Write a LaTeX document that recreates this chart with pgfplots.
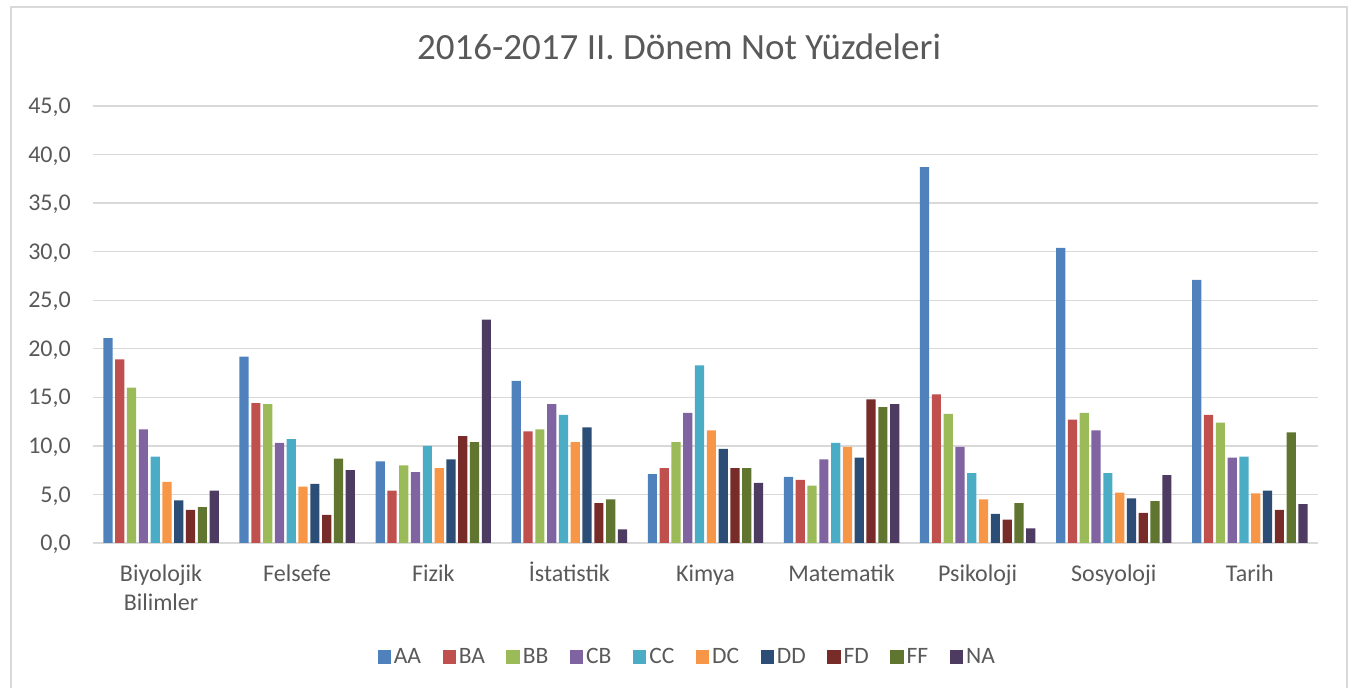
\documentclass[border=0pt]{standalone}
\usepackage{fontspec}
\setmainfont{Carlito}
\usepackage{pgfplots}
\pgfplotsset{compat=1.18}
\usepackage{pgfplotstable}
\definecolor{cAA}{HTML}{4F81BD}
\definecolor{cBA}{HTML}{C0504D}
\definecolor{cBB}{HTML}{9BBB59}
\definecolor{cCB}{HTML}{8064A2}
\definecolor{cCC}{HTML}{4BACC6}
\definecolor{cDC}{HTML}{F79646}
\definecolor{cDD}{HTML}{2C4D75}
\definecolor{cFD}{HTML}{772C2A}
\definecolor{cFF}{HTML}{5F7530}
\definecolor{cNA}{HTML}{4D3B62}
\definecolor{txt}{HTML}{595959}
\definecolor{gridc}{HTML}{D9D9D9}

\pgfplotstableread{
cat AA BA BB CB CC DC DD FD FF NA
0 21.1 18.9 16.0 11.7 8.9 6.3 4.4 3.4 3.7 5.4
1 19.2 14.4 14.3 10.3 10.7 5.8 6.1 2.9 8.7 7.5
2 8.4 5.4 8.0 7.3 10.0 7.7 8.6 11.0 10.4 23.0
3 16.7 11.5 11.7 14.3 13.2 10.4 11.9 4.1 4.5 1.4
4 7.1 7.7 10.4 13.4 18.3 11.6 9.7 7.7 7.7 6.2
5 6.8 6.5 5.9 8.6 10.3 9.9 8.8 14.8 14.0 14.3
6 38.7 15.3 13.3 9.9 7.2 4.5 3.0 2.4 4.1 1.5
7 30.4 12.7 13.4 11.6 7.2 5.2 4.6 3.1 4.3 7.0
8 27.1 13.2 12.4 8.8 8.9 5.1 5.4 3.4 11.4 4.0
}\datatable

\begin{document}
\begin{tikzpicture}
\path[use as bounding box] (0bp,0bp) rectangle (1353bp,688bp);
\draw[gridc, line width=1.3bp] (11bp,-5bp) -- (11bp,681bp) -- (1347bp,681bp) -- (1347bp,-5bp);
\node[font=\fontsize{37bp}{44bp}\selectfont, text=txt, anchor=base] at (679bp,628.5bp) {2016-2017 II. Dönem Not Yüzdeleri};
\begin{axis}[
  at={(93bp,145bp)}, anchor=south west,
  scale only axis, width=1225bp, height=437bp,
  xmin=-0.5, xmax=8.5, ymin=0, ymax=45,
  ybar=2.6bp, bar width=9.2bp,
  axis line style={draw=none},
  major tick length=0pt,
  ymajorgrids, major grid style={gridc, line width=1.3bp},
  xtick={0,...,8},
  xticklabels={{Biyolojik\\Bilimler},Felsefe,Fizik,İstatistik,Kimya,Matematik,Psikoloji,Sosyoloji,Tarih},
  typeset ticklabels with strut,
  xticklabel style={font=\fontsize{24bp}{29bp}\selectfont, text=txt, align=center, anchor=north, inner sep=0pt, yshift=-17.7bp},
  ytick={0,5,...,45},
  yticklabel style={font=\fontsize{24bp}{29bp}\selectfont, text=txt, anchor=base east, inner sep=0pt, xshift=-22bp, yshift=-7.6bp,
    /pgf/number format/fixed, /pgf/number format/fixed zerofill, /pgf/number format/precision=1, /pgf/number format/use comma, /pgf/number format/assume math mode=true},
  legend columns=10,
  legend style={draw=none, fill=none, font=\fontsize{23.5bp}{28bp}\selectfont, text=txt,
    at={(0.4855,-0.2609)}, anchor=center, cells={anchor=west},
    nodes={inner xsep=3bp},
    /tikz/every even column/.append style={column sep=18.5bp}},
  every axis plot post/.append style={legend image code/.code={\fill[##1] (0bp,-6.5bp) rectangle (13.3bp,6.8bp);}},
]
\addplot[fill=cAA, draw=none] table[x=cat,y=AA]{\datatable};
\addplot[fill=cBA, draw=none] table[x=cat,y=BA]{\datatable};
\addplot[fill=cBB, draw=none] table[x=cat,y=BB]{\datatable};
\addplot[fill=cCB, draw=none] table[x=cat,y=CB]{\datatable};
\addplot[fill=cCC, draw=none] table[x=cat,y=CC]{\datatable};
\addplot[fill=cDC, draw=none] table[x=cat,y=DC]{\datatable};
\addplot[fill=cDD, draw=none] table[x=cat,y=DD]{\datatable};
\addplot[fill=cFD, draw=none] table[x=cat,y=FD]{\datatable};
\addplot[fill=cFF, draw=none] table[x=cat,y=FF]{\datatable};
\addplot[fill=cNA, draw=none] table[x=cat,y=NA]{\datatable};
\legend{AA,BA,BB,CB,CC,DC,DD,FD,FF,NA}
\end{axis}
\end{tikzpicture}
\end{document}
